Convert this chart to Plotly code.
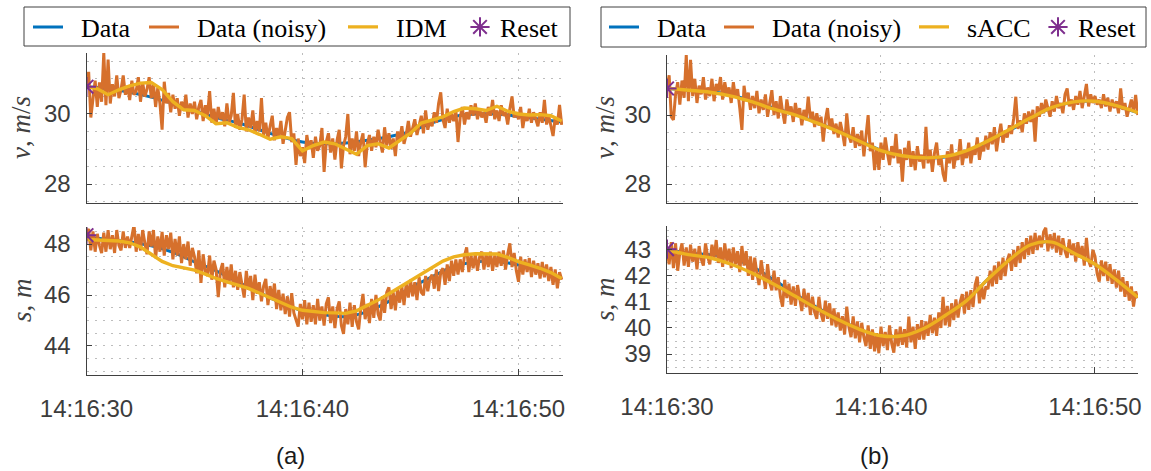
import pandas as pd
import plotly.graph_objects as go

# ---------------------------------------------------------------- data
T0 = "2023-05-11 14:16:30"
t_noisy = pd.date_range(T0, periods=221, freq="100ms")   # 10 Hz samples
t_1s = pd.date_range(T0, periods=23, freq="1s")
t_half = pd.date_range(T0, periods=45, freq="500ms")

# (a) speed
a_v_data = [30.78, 30.72, 30.62, 30.48, 30.30, 30.10, 29.90, 29.75, 29.55, 29.35, 29.20, 29.15,
            29.17, 29.25, 29.35, 29.50, 29.75, 29.93, 30.00, 30.00, 29.93, 29.85, 29.77]
a_v_noisy = [
    30.80, 31.20, 29.90, 30.40, 30.95, 30.20, 30.90, 30.35, 31.75, 30.25,
    31.55, 30.30, 30.85, 30.50, 31.10, 30.45, 30.70, 31.10, 30.55, 30.80,
    30.40, 30.95, 30.55, 30.65, 31.05, 30.35, 30.90, 30.50, 30.70, 31.05,
    30.45, 30.85, 30.20, 30.75, 30.30, 29.55, 30.92, 30.30, 30.60, 30.05,
    30.55, 30.15, 30.45, 29.95, 30.35, 30.10, 30.55, 29.90, 30.30, 30.00,
    30.35, 29.85, 30.20, 30.40, 29.80, 30.25, 29.95, 30.65, 29.75, 30.15,
    29.70, 30.20, 29.85, 30.05, 29.65, 30.30, 29.75, 29.95, 30.60, 29.60,
    30.00, 29.55, 29.85, 30.55, 29.50, 29.90, 29.60, 30.10, 29.45, 29.80,
    29.50, 30.45, 29.40, 29.75, 29.30, 29.65, 29.95, 29.25, 29.60, 29.35,
    29.80, 29.15, 29.50, 29.90, 30.05, 29.20, 29.45, 28.55, 29.30, 28.80,
    29.05, 28.60, 29.40, 29.00, 29.25, 28.75, 29.35, 28.95, 29.10, 29.60,
    28.35, 29.20, 29.45, 28.90, 29.30, 28.70, 29.25, 29.55, 28.45, 29.10,
    29.35, 30.00, 28.85, 29.30, 28.95, 29.50, 28.80, 29.20, 29.45, 28.48,
    29.15, 29.40, 28.95, 29.35, 29.05, 29.55, 29.20, 28.90, 29.62, 29.10,
    29.45, 29.00, 29.30, 28.80, 29.50, 29.25, 29.65, 29.15, 29.40, 29.80,
    29.35, 29.60, 29.85, 29.40, 29.70, 29.95, 29.45, 30.10, 29.55, 29.80,
    29.65, 30.05, 29.75, 30.30, 30.62, 29.85, 29.60, 30.15, 29.75, 30.00,
    29.80, 30.10, 29.20, 29.90, 30.20, 29.70, 30.05, 29.85, 30.25, 29.95,
    30.30, 29.85, 30.15, 29.90, 30.05, 29.75, 30.20, 29.95, 30.40, 29.85,
    30.10, 29.80, 30.25, 29.95, 30.05, 29.70, 30.15, 30.50, 29.90, 30.05,
    29.85, 30.20, 29.60, 30.00, 29.80, 30.15, 29.75, 30.05, 29.85, 29.65,
    30.05, 29.75, 30.40, 29.70, 29.95, 29.60, 29.37, 29.90, 29.70, 30.26,
    29.69]
a_v_idm = [30.78, 30.72, 30.55, 30.69, 30.80, 30.88, 30.90, 30.70, 30.35, 30.12, 30.10, 29.95,
           29.72, 29.75, 29.62, 29.55, 29.42, 29.28, 29.35, 29.30, 28.95, 29.10, 29.20, 29.15,
           29.00, 28.85, 29.10, 29.15, 29.03, 29.25, 29.45, 29.74, 29.82, 29.92, 30.07, 30.17,
           30.15, 30.10, 30.22, 30.08, 30.00, 29.97, 29.98, 29.95, 29.80]

# (a) spacing
a_s_data = [48.28, 48.18, 48.08, 47.93, 47.68, 47.30, 46.95, 46.52, 46.10, 45.70, 45.38, 45.22,
            45.15, 45.35, 45.75, 46.28, 46.72, 47.12, 47.30, 47.32, 47.18, 46.95, 46.65]
a_s_noisy = [
    48.30, 48.60, 47.75, 48.50, 47.70, 48.40, 47.95, 47.65, 48.45, 47.70,
    48.55, 47.80, 48.35, 47.65, 48.55, 47.95, 47.75, 48.50, 47.85, 48.30,
    47.85, 48.25, 48.75, 47.70, 48.40, 47.75, 48.55, 48.05, 47.60, 48.50,
    47.90, 48.55, 47.45, 48.30, 47.70, 48.48, 47.55, 48.35, 47.80, 48.45,
    47.40, 48.20, 47.55, 48.30, 47.25, 48.00, 47.40, 48.10, 47.15, 47.85,
    47.50, 46.85, 47.75, 46.48, 47.60, 46.95, 46.75, 47.55, 46.60, 47.35,
    47.00, 45.92, 46.95, 47.25, 46.30, 47.10, 46.45, 47.20, 46.30, 46.95,
    46.20, 46.90, 46.45, 45.90, 46.95, 46.20, 46.75, 45.80, 46.80, 46.05,
    46.50, 45.75, 46.35, 46.63, 45.60, 46.35, 45.80, 46.45, 45.45, 46.20,
    45.40, 46.05, 45.25, 45.95, 45.15, 46.07, 45.30, 45.05, 44.76, 45.65,
    45.05, 45.80, 44.85, 45.70, 44.95, 45.60, 44.85, 45.85, 45.00, 45.55,
    44.80, 45.65, 45.91, 44.90, 45.55, 44.70, 45.45, 45.75, 44.80, 44.47,
    45.45, 44.85, 45.70, 44.75, 45.60, 44.95, 44.65, 45.50, 46.04, 45.05,
    45.65, 44.90, 45.85, 45.10, 46.00, 45.25, 45.00, 45.95, 45.30, 46.10,
    46.30, 45.45, 46.10, 45.40, 46.25, 45.70, 46.35, 45.60, 46.45, 45.90,
    46.60, 45.95, 46.50, 45.80, 46.70, 46.10, 46.00, 46.75, 46.15, 46.65,
    46.80, 46.25, 47.00, 46.15, 46.90, 47.05, 46.40, 47.20, 46.55, 47.35,
    46.75, 47.40, 46.80, 47.40, 46.90, 47.55, 47.87, 46.90, 47.55, 47.05,
    47.60, 46.95, 47.50, 47.70, 47.00, 47.60, 47.10, 47.70, 46.95, 47.55,
    47.10, 47.70, 47.15, 47.75, 47.00, 47.60, 48.03, 47.10, 47.65, 46.95,
    46.52, 47.50, 46.80, 47.40, 46.90, 47.45, 46.70, 47.35, 46.80, 47.25,
    46.65, 47.30, 46.70, 47.20, 46.55, 47.10, 46.40, 47.00, 46.26, 46.90,
    46.60]
a_s_idm = [48.18, 48.17, 48.16, 48.12, 48.05, 47.88, 47.60, 47.32, 47.15, 47.08, 46.98, 46.82,
           46.65, 46.52, 46.40, 46.26, 46.08, 45.90, 45.72, 45.52, 45.40, 45.34, 45.31, 45.30,
           45.28, 45.38, 45.58, 45.80, 46.05, 46.30, 46.55, 46.80, 47.08, 47.33, 47.50, 47.58,
           47.62, 47.63, 47.61, 47.48, 47.31, 47.18, 47.05, 46.88, 46.65]

# (b) speed
b_v_data = [30.77, 30.72, 30.68, 30.58, 30.40, 30.20, 30.02, 29.78, 29.55, 29.26, 28.98, 28.82,
            28.75, 28.78, 28.95, 29.22, 29.55, 29.90, 30.22, 30.37, 30.40, 30.25, 30.07]
b_v_noisy = [
    30.78, 31.15, 29.95, 29.86, 30.60, 30.95, 30.30, 31.00, 30.50, 31.74,
    30.40, 31.60, 30.55, 31.05, 30.35, 30.85, 30.60, 31.10, 30.45, 30.80,
    30.55, 31.05, 30.40, 30.90, 30.70, 31.10, 30.45, 30.95, 30.60, 30.80,
    30.35, 30.95, 30.50, 30.75, 30.20, 29.57, 30.85, 30.40, 30.65, 30.15,
    30.55, 30.20, 30.70, 30.05, 30.45, 30.15, 30.60, 29.95, 30.35, 30.72,
    30.00, 30.40, 29.90, 30.55, 30.10, 29.75, 30.45, 30.05, 30.25, 29.80,
    30.35, 29.95, 30.20, 29.70, 30.15, 29.85, 30.53, 29.90, 30.10, 29.65,
    30.05, 29.70, 29.95, 29.23, 29.85, 30.20, 29.60, 29.90, 29.45, 29.75,
    29.35, 29.80, 29.50, 29.10, 30.05, 29.40, 29.20, 29.65, 29.05, 29.45,
    29.10, 29.55, 28.80, 29.35, 30.00, 28.95, 29.20, 28.40, 29.05, 28.41,
    29.20, 28.70, 29.35, 28.90, 28.55, 29.10, 28.75, 29.45, 28.60, 29.00,
    28.07, 29.05, 28.70, 29.25, 28.50, 28.95, 28.40, 29.10, 28.65, 28.85,
    28.45, 29.66, 28.60, 29.00, 28.35, 28.90, 29.20, 28.55, 28.80, 28.30,
    28.07, 28.95, 28.60, 29.15, 28.45, 28.85, 28.70, 29.30, 28.55, 28.95,
    28.75, 29.20, 28.60, 29.05, 28.85, 29.35, 28.70, 29.10, 28.95, 29.40,
    29.00, 29.50, 29.15, 29.65, 28.95, 29.40, 29.75, 29.20, 29.55, 29.35,
    29.70, 29.45, 29.90, 30.53, 29.60, 29.85, 29.50, 30.05, 29.75, 30.10,
    29.80, 30.15, 29.23, 30.25, 29.95, 30.35, 30.05, 30.45, 30.15, 29.95,
    30.40, 30.10, 30.55, 30.20, 30.35, 30.05, 30.60, 30.77, 30.25, 30.45,
    30.15, 30.55, 30.30, 30.70, 30.20, 30.50, 30.90, 30.25, 30.60, 30.35,
    30.55, 30.30, 30.45, 30.20, 30.60, 30.25, 30.50, 30.10, 30.45, 30.20,
    30.40, 30.05, 30.77, 30.15, 30.35, 29.95, 30.25, 30.45, 30.10, 30.58,
    30.00]
b_v_sacc = [30.78, 30.72, 30.66, 30.55, 30.38, 30.17, 30.00, 29.77, 29.52, 29.24, 28.97, 28.82,
            28.76, 28.80, 28.97, 29.25, 29.58, 29.92, 30.22, 30.38, 30.40, 30.27, 30.07]

# (b) spacing
b_s_data = [43.02, 42.88, 42.82, 42.70, 42.35, 41.85, 41.30, 40.80, 40.35, 39.95, 39.68, 39.70,
            39.98, 40.45, 41.05, 41.88, 42.62, 43.20, 43.30, 42.88, 42.45, 41.85, 41.18]
b_s_noisy = [
    43.05, 42.45, 43.30, 42.30, 43.25, 42.20, 42.90, 43.25, 42.40, 43.10,
    42.35, 43.20, 42.55, 43.05, 42.25, 43.15, 42.65, 42.40, 43.25, 42.75,
    42.45, 43.20, 42.70, 43.38, 42.50, 43.10, 42.35, 43.25, 42.55, 43.05,
    42.30, 43.10, 42.45, 42.95, 42.15, 43.15, 42.40, 42.95, 42.00, 42.75,
    41.85, 42.70, 42.10, 41.65, 42.60, 41.95, 41.50, 42.45, 41.75, 41.45,
    42.20, 41.45, 41.95, 41.20, 40.82, 41.85, 41.15, 41.70, 40.90, 41.60,
    40.85, 41.65, 41.05, 40.65, 41.50, 40.80, 41.35, 40.50, 41.20, 40.60,
    40.35, 41.20, 40.55, 40.25, 41.05, 40.35, 40.95, 40.10, 40.75, 40.05,
    40.60, 39.90, 40.45, 39.75, 40.82, 40.05, 39.65, 40.45, 39.60, 40.25,
    39.45, 40.20, 39.65, 39.30, 40.10, 39.20, 39.95, 39.10, 39.80, 39.03,
    40.05, 39.30, 39.85, 39.15, 40.10, 39.40, 39.05, 39.95, 39.30, 40.05,
    39.35, 39.95, 39.25, 40.44, 39.45, 40.05, 39.20, 40.15, 39.55, 40.30,
    39.55, 40.25, 39.70, 40.50, 39.80, 40.40, 39.70, 40.60, 40.00, 41.20,
    40.10, 40.85, 40.05, 40.95, 40.30, 41.10, 40.40, 41.00, 41.30, 40.55,
    41.40, 40.70, 41.45, 40.80, 41.65, 41.97, 40.95, 41.65, 41.10, 41.59,
    41.50, 42.20, 41.60, 42.40, 41.70, 42.55, 41.85, 42.70, 42.00, 42.60,
    42.85, 42.20, 43.00, 42.35, 43.15, 42.50, 43.30, 42.65, 43.45, 42.80,
    43.55, 42.85, 43.65, 43.00, 43.55, 43.10, 43.70, 43.85, 42.95, 43.60,
    43.05, 43.65, 42.90, 43.55, 42.80, 43.45, 42.95, 42.70, 43.40, 42.80,
    43.25, 42.55, 43.30, 42.70, 43.15, 42.40, 43.46, 42.60, 42.35, 43.00,
    42.75, 42.10, 41.78, 42.60, 42.00, 42.55, 41.80, 42.45, 41.70, 42.25,
    41.55, 42.20, 41.40, 41.95, 41.20, 41.80, 41.05, 41.60, 40.82, 41.40,
    41.15]
b_s_sacc = [43.00, 42.82, 42.70, 42.45, 42.10, 41.68, 41.22, 40.75, 40.32, 39.95, 39.70, 39.70,
            39.98, 40.48, 41.05, 41.88, 42.62, 43.20, 43.30, 42.88, 42.45, 41.85, 41.18]

# reset instants
reset_a_v, reset_a_s = [30.78], [48.35]
reset_b_v, reset_b_s = [30.77], [43.03]

# ---------------------------------------------------------------- styling
C_DATA, C_NOISY, C_MODEL, C_RESET = "#0072BD", "#D6702C", "#EDB120", "#7E2F8E"
AXIS_C, TICK_C, GRID_C = "#404040", "#3c3c3c", "#bdbdbd"
W, H = 1151, 471
EN = "\u2002"


def px_x(a, b):
    return [a / W, b / W]


def px_y(top, bottom):
    return [1 - bottom / H, 1 - top / H]


fig = go.Figure()


def add_panel(xa, ya, t_model, data, noisy, model, model_name, reset, legend, show, lw):
    fig.add_trace(go.Scatter(x=t_1s, y=data, mode="lines", name=EN + "Data",
                             line=dict(color=C_DATA, width=3, shape="spline"),
                             xaxis=xa, yaxis=ya, legend=legend, showlegend=show,
                             legendwidth=lw[0]))
    fig.add_trace(go.Scatter(x=t_noisy, y=noisy, mode="lines", name=EN + "Data (noisy)",
                             line=dict(color=C_NOISY, width=3),
                             xaxis=xa, yaxis=ya, legend=legend, showlegend=show,
                             legendwidth=lw[1]))
    fig.add_trace(go.Scatter(x=t_model, y=model, mode="lines", name=EN + model_name,
                             line=dict(color=C_MODEL, width=3.4,
                                       shape="spline" if model_name == "sACC" else "linear"),
                             xaxis=xa, yaxis=ya, legend=legend, showlegend=show,
                             legendwidth=lw[2]))
    fig.add_trace(go.Scatter(x=t_1s[:1], y=reset, mode="markers", name="Reset",
                             marker=dict(symbol="asterisk-open", size=16, color=C_RESET,
                                         line=dict(color=C_RESET, width=2)),
                             xaxis=xa, yaxis=ya, legend=legend, showlegend=show,
                             legendwidth=lw[3]))


# legend entry widths (px)
LW_A = [71, 154, 72, 60]
LW_B = [70, 150, 79, 60]
add_panel("x", "y", t_half, a_v_data, a_v_noisy, a_v_idm, "IDM", reset_a_v, "legend", True, LW_A)
add_panel("x2", "y2", t_half, a_s_data, a_s_noisy, a_s_idm, "IDM", reset_a_s, "legend", False, LW_A)
add_panel("x3", "y3", t_1s, b_v_data, b_v_noisy, b_v_sacc, "sACC", reset_b_v, "legend2", True, LW_B)
add_panel("x4", "y4", t_1s, b_s_data, b_s_noisy, b_s_sacc, "sACC", reset_b_s, "legend2", False, LW_B)

DOT = "2px,6px"


def xaxis(domain, anchor, end, labels):
    return dict(domain=domain, anchor=anchor, type="date", automargin=False,
                range=[T0, end], tick0=T0, dtick=10000, tickformat="%H:%M:%S",
                showline=True, linecolor=AXIS_C, linewidth=1,
                ticks="inside", ticklen=6, tickcolor=AXIS_C,
                showticklabels=labels, ticklabelstandoff=12,
                tickfont=dict(family="Liberation Sans", size=24, color=TICK_C),
                showgrid=True, gridcolor=GRID_C, griddash=DOT, gridwidth=1,
                zeroline=False)


def yaxis(domain, anchor, rng, dtick, minor):
    return dict(domain=domain, anchor=anchor, range=rng, dtick=dtick, tick0=0,
                automargin=False,
                showline=True, linecolor=AXIS_C, linewidth=1,
                ticks="inside", ticklen=5, tickcolor=AXIS_C, ticklabelstandoff=10,
                tickfont=dict(family="Liberation Sans", size=24, color=TICK_C),
                showgrid=True, gridcolor=GRID_C, griddash=DOT, gridwidth=1,
                minor=dict(dtick=minor, tick0=0, showgrid=True, gridcolor=GRID_C,
                           griddash=DOT, gridwidth=1, ticks=""),
                zeroline=False)


A_X, B_X = px_x(86.5, 563), px_x(667, 1138)
fig.update_layout(
    width=W, height=H, margin=dict(l=0, r=0, t=0, b=0, autoexpand=False),
    paper_bgcolor="white", plot_bgcolor="white",
    xaxis=xaxis(A_X, "y", "2023-05-11 14:16:52.06", False),
    yaxis=yaxis(px_y(53, 203), "x", [27.46, 31.74], 2, 0.5),
    xaxis2=xaxis(A_X, "y2", "2023-05-11 14:16:52.06", True),
    yaxis2=yaxis(px_y(227, 375), "x2", [42.86, 48.67], 2, 0.5),
    xaxis3=xaxis(B_X, "y3", "2023-05-11 14:16:52.01", False),
    yaxis3=yaxis(px_y(55, 203), "x3", [27.45, 31.74], 2, 0.5),
    xaxis4=xaxis(B_X, "y4", "2023-05-11 14:16:52.01", True),
    yaxis4=yaxis(px_y(226, 373), "x4", [38.27, 43.92], 1, 0.25),
    legend=dict(orientation="h", x=28 / W, xanchor="left", y=1 - 27 / H, yanchor="middle",
                bgcolor="rgba(0,0,0,0)", borderwidth=0,
                font=dict(family="Liberation Serif", size=26, color="black")),
    legend2=dict(orientation="h", x=604 / W, xanchor="left", y=1 - 27 / H, yanchor="middle",
                 bgcolor="rgba(0,0,0,0)", borderwidth=0,
                 font=dict(family="Liberation Serif", size=26, color="black")),
    shapes=[
        dict(type="rect", xref="paper", yref="paper", x0=24 / W, x1=570 / W,
             y0=1 - 46 / H, y1=1 - 7 / H, line=dict(color=AXIS_C, width=1),
             fillcolor="white", layer="below"),
        dict(type="rect", xref="paper", yref="paper", x0=601 / W, x1=1146 / W,
             y0=1 - 47 / H, y1=1 - 7 / H, line=dict(color=AXIS_C, width=1),
             fillcolor="white", layer="below"),
    ],
    showlegend=True,
)

LBL = dict(family="Liberation Serif", size=27, color="#404040")
V_LABEL = "<i>v</i>, <i>m</i>/<i>s</i>"
S_LABEL = "<i>s</i>, <i>m</i>"
for x0, y0, txt in [(21, 128, V_LABEL), (22, 300, S_LABEL),
                    (605, 128, V_LABEL), (605, 299, S_LABEL)]:
    fig.add_annotation(x=x0 / W, y=1 - y0 / H, xref="paper", yref="paper", text=txt,
                       textangle=-90, showarrow=False, font=LBL,
                       xanchor="center", yanchor="middle")

for x0, txt in [(290, "(a)"), (874, "(b)")]:
    fig.add_annotation(x=x0 / W, y=1 - 455 / H, xref="paper", yref="paper", text=txt,
                       showarrow=False, xanchor="center", yanchor="middle",
                       font=dict(family="Liberation Sans", size=24, color="#1a1a1a"))

fig.write_html("out.html")
